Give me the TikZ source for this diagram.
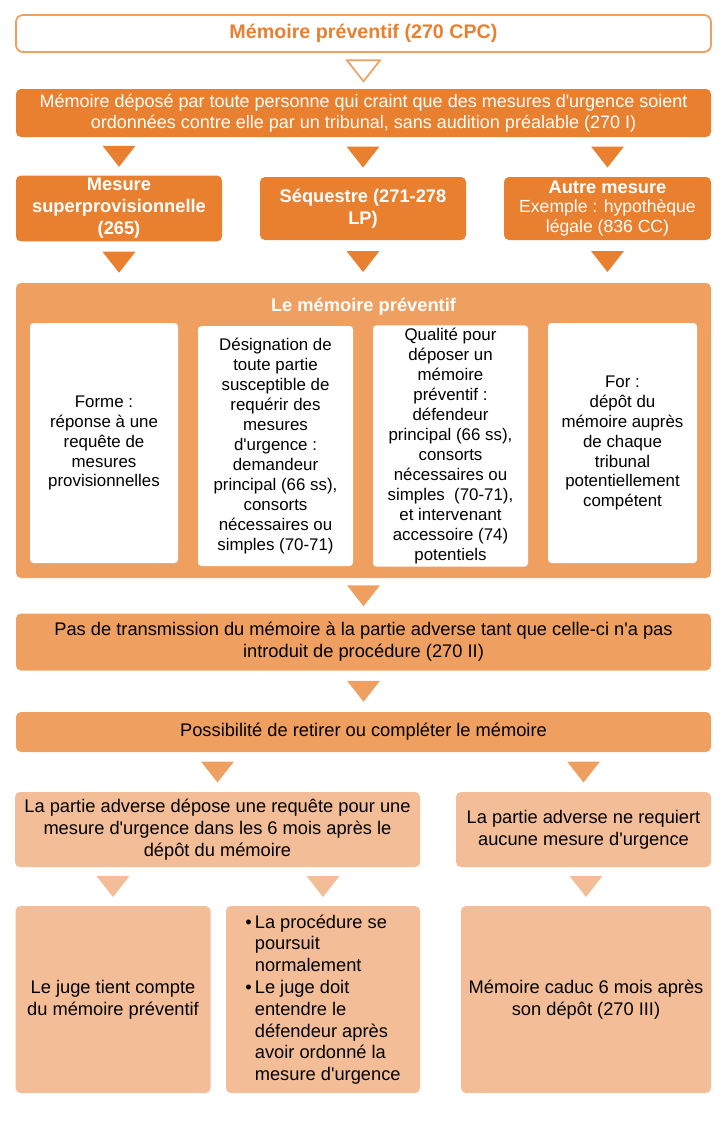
\documentclass[tikz,border=0pt]{standalone}
\usepackage{fontspec}
\setmainfont{Liberation Sans}[Ligatures=TeXOff]
\usepackage{tikz}
\usetikzlibrary{calc,positioning}
\definecolor{ordark}{HTML}{E8802F}
\definecolor{ormid}{HTML}{EFA061}
\definecolor{orlight}{HTML}{F3BE97}
\tikzset{
  boxsize/.style 2 args={minimum width=#1*0.025cm, minimum height=#2*0.025cm},
  base/.style={
    rounded corners=3.5pt,
    align=center,
    inner sep=2pt,
    font=\fontsize{13}{15.5}\selectfont
  },
  titlebox/.style={base, draw=ormid, line width=1.3pt, fill=white, text=ordark,
    rounded corners=5pt, font=\fontsize{14}{17}\selectfont\bfseries},
  darkbox/.style={base, fill=ordark, text=white},
  headbox/.style={base, fill=ordark, text=white, font=\fontsize{13}{15.6}\selectfont\bfseries},
  midbox/.style={base, fill=ormid, text=black},
  lightbox/.style={base, fill=orlight, text=black},
  innerbox/.style={base, fill=white, text=black, rounded corners=2.5pt,
    font=\fontsize{12}{14.2}\selectfont},
  boxtitle/.style={font=\fontsize{13}{15.6}\selectfont\bfseries, text=white},
  opentri/.style={fill=white, draw=ormid, line width=1.2pt},
  darktri/.style={fill=ordark},
  midtri/.style={fill=ormid},
  lighttri/.style={fill=orlight}
}
% triangle half way between two boxes, x taken from #4
\newcommand{\flowtri}[4]{%
  \coordinate (trimid) at ($(#4.center |- #2.south)!0.5!(#4.center |- #3.north)$);
  \path[#1] ($(trimid)+(-16.5,-10.5)$) -- ($(trimid)+(16.5,-10.5)$) -- ($(trimid)+(0,10.5)$) -- cycle;
}
\newcommand{\bul}{\textbullet\,}
\newcommand{\ind}{\phantom{\textbullet\,}}

\begin{document}
\begin{tikzpicture}[x=0.025cm,y=-0.025cm]
\path[use as bounding box] (0,0) rectangle (726,1124);
\fill[white] (0,0) rectangle (726,1124);

\node[titlebox, boxsize={695}{37}] (title) at (363.5,33.5) {Mémoire préventif (270 CPC)};

\node[darkbox, boxsize={695}{48}, font=\fontsize{12.8}{14.8}\selectfont] (depose) at (363.5,113)
  {Mémoire déposé par toute personne qui craint que des mesures d'urgence soient\\
   ordonnées contre elle par un tribunal, sans audition préalable (270 I)};

\node[headbox, boxsize={206}{63}] (superprov) at (119,208.5) {Mesure\\superprovisionnelle\\(265)};
\node[headbox, boxsize={206}{63}] (sequestre) at (363,208.5) {Séquestre (271-278\\LP)};
\node[darkbox, boxsize={207}{63}, font=\fontsize{12.5}{14}\selectfont] (autre) at (607.5,208.5)
  {{\fontsize{13}{14}\selectfont\bfseries Autre mesure}\\Exemple : hypothèque\\légale (836 CC)};

\node[midbox, boxsize={695}{295}] (memoire) at (363.5,430.5) {};
\node[boxtitle] (memtitle) at (363.5,307) {Le mémoire préventif};

\node[innerbox, boxsize={148}{240}] (forme) at (104,443)
  {Forme :\\réponse à une\\requête de\\mesures\\provisionnelles};
\node[innerbox, boxsize={155}{240}] (designation) at (275.5,446)
  {Désignation de\\toute partie\\susceptible de\\requérir des\\mesures\\d'urgence :\\demandeur\\principal (66 ss),\\consorts\\nécessaires ou\\simples (70-71)};
\node[innerbox, boxsize={155}{240}] (qualite) at (450.5,446)
  {Qualité pour\\déposer un\\mémoire\\préventif :\\défendeur\\principal (66 ss),\\consorts\\nécessaires ou\\simples~ (70-71),\\et intervenant\\accessoire (74)\\potentiels};
\node[innerbox, boxsize={149}{240}] (for) at (622.5,443)
  {For :\\dépôt du\\mémoire auprès\\de chaque\\tribunal\\potentiellement\\compétent};

\node[midbox, boxsize={695}{57}] (transmission) at (363.5,642)
  {Pas de transmission du mémoire à la partie adverse tant que celle-ci n'a pas\\
   introduit de procédure (270 II)};

\node[midbox, boxsize={695}{40}] (retirer) at (363.5,732)
  {Possibilité de retirer ou compléter le mémoire};

\node[lightbox, boxsize={405}{75}] (requete) at (217.5,829.5)
  {La partie adverse dépose une requête pour une\\mesure d'urgence dans les 6 mois après le\\dépôt du mémoire};
\node[lightbox, boxsize={255}{75}] (aucune) at (583.5,829.5)
  {La partie adverse ne requiert\\aucune mesure d'urgence};

\node[lightbox, boxsize={195}{187}] (tientcompte) at (113,999.5)
  {Le juge tient compte\\du mémoire préventif};
\node[lightbox, boxsize={194}{187}, align=left] (poursuit) at (323,999.5)
  {\bul La procédure se\\\ind poursuit\\\ind normalement\\\bul Le juge doit\\\ind entendre le\\\ind défendeur après\\\ind avoir ordonné la\\\ind mesure d'urgence};
\node[lightbox, boxsize={250}{187}] (caduc) at (586,999.5)
  {Mémoire caduc 6 mois après\\son dépôt (270 III)};

\flowtri{opentri}{title}{depose}{title}
\flowtri{darktri}{depose}{superprov}{superprov}
\flowtri{darktri}{depose}{sequestre}{sequestre}
\flowtri{darktri}{depose}{autre}{autre}
\flowtri{darktri}{superprov}{memoire}{superprov}
\flowtri{darktri}{sequestre}{memoire}{sequestre}
\flowtri{darktri}{autre}{memoire}{autre}
\flowtri{midtri}{memoire}{transmission}{memoire}
\flowtri{midtri}{transmission}{retirer}{transmission}
\flowtri{midtri}{retirer}{requete}{requete}
\flowtri{midtri}{retirer}{aucune}{aucune}
\flowtri{lighttri}{requete}{tientcompte}{tientcompte}
\flowtri{lighttri}{requete}{poursuit}{poursuit}
\flowtri{lighttri}{aucune}{caduc}{caduc}

\end{tikzpicture}
\end{document}
